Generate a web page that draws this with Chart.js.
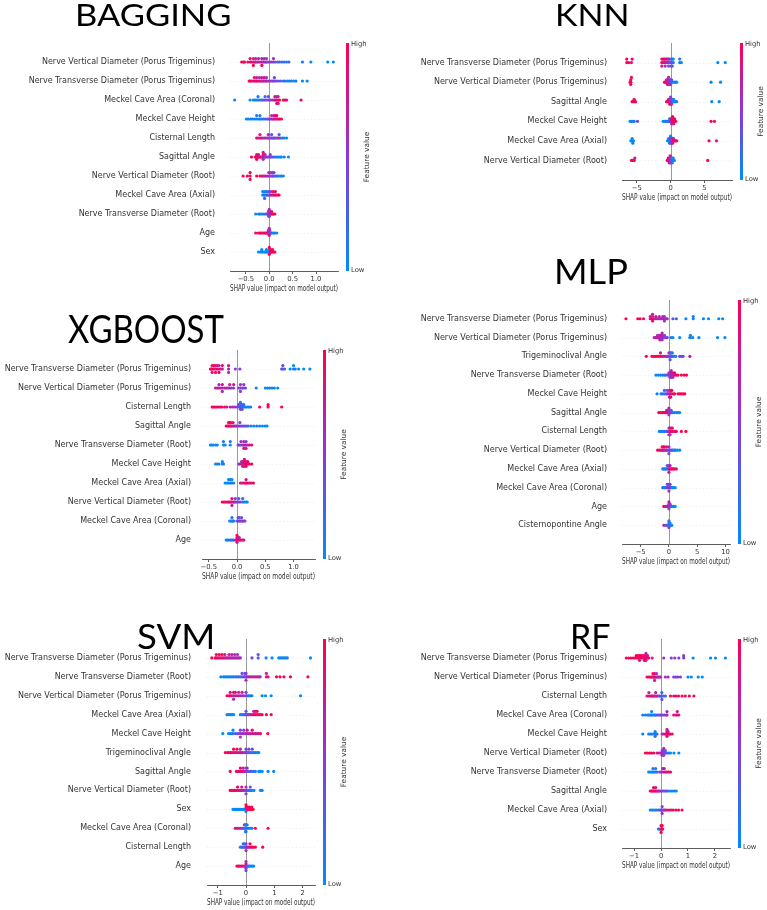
<!DOCTYPE html>
<html>
<head>
<meta charset="utf-8">
<script src="https://cdn.jsdelivr.net/npm/chart.js@4.4.1/dist/chart.umd.min.js"></script>
<style>
  body { margin: 0; background: #fff; width: 767px; height: 910px; position: relative; overflow: hidden; }
  canvas { position: absolute; }
  .ttl { position: absolute; font-family: "Lato"; line-height: 1; white-space: nowrap; transform-origin: 0 0; color: #000; z-index: 5; }
</style>
</head>
<body>
<script>
// ---- data: each point is [shap value, feature value (0 = low, 1 = high)] ----

const baggingFeatures = ['Nerve Vertical Diameter (Porus Trigeminus)', 'Nerve Transverse Diameter (Porus Trigeminus)', 'Meckel Cave Area (Coronal)', 'Meckel Cave Height', 'Cisternal Length', 'Sagittal Angle', 'Nerve Vertical Diameter (Root)', 'Meckel Cave Area (Axial)', 'Nerve Transverse Diameter (Root)', 'Age', 'Sex'];
const baggingTicks = [-0.5, 0, 0.5, 1.0];
const baggingTickLabels = ['\u22120.5', '0.0', '0.5', '1.0'];
const baggingPoints = [
  [[-0.59,1],[-0.55,1],[-0.53,1],[-0.46,.9],[-0.41,1],[-0.41,.9],[-0.38,.8],[-0.34,1],[-0.34,.8],[-0.34,1],[-0.31,.7],[-0.29,.9],[-0.29,.7],[-0.26,.6],[-0.23,.8],[-0.23,.7],[-0.2,.6],[-0.16,1],[-0.16,.7],[-0.16,1],[-0.13,.6],[-0.11,.8],[-0.11,.6],[-0.08,.5],[-0.06,.6],[-0.06,.6],[-0.03,.5],[0.01,.5],[0.05,.6],[0.09,.5],[0.09,.6],[0.13,.4],[0.18,.3],[0.22,.3],[0.27,.2],[0.32,.2],[0.37,.1],[0.42,.2],[0.71,0],[0.89,0],[1.25,0],[1.37,0]],
  [[-0.43,1],[-0.41,.9],[-0.38,1],[-0.35,.8],[-0.32,1],[-0.32,.9],[-0.29,.8],[-0.27,1],[-0.27,.7],[-0.24,.9],[-0.21,.8],[-0.21,.7],[-0.18,.9],[-0.16,.7],[-0.16,.8],[-0.13,.6],[-0.11,.9],[-0.11,.7],[-0.08,.6],[-0.06,.8],[-0.06,.6],[-0.03,.7],[0.01,.6],[0.05,.5],[0.08,.5],[0.11,.5],[0.11,.4],[0.14,.4],[0.19,.4],[0.24,.3],[0.3,.2],[0.34,.1],[0.39,.1],[0.43,0],[0.47,.1],[0.52,0],[0.57,.1],[0.71,0],[0.81,0]],
  [[-0.74,0],[-0.41,0],[-0.34,.1],[-0.3,0],[-0.27,.1],[-0.24,0],[-0.24,.1],[-0.2,.2],[-0.16,.1],[-0.13,.3],[-0.09,.4],[-0.09,.2],[-0.06,.3],[-0.02,.5],[-0.02,.4],[0.02,.4],[0.06,.6],[0.1,.7],[0.12,.7],[0.12,.8],[0.14,.8],[0.16,.9],[0.16,.7],[0.16,.8],[0.19,.8],[0.19,.7],[0.19,.9],[0.22,1],[0.3,1],[0.34,1],[0.37,.9],[0.68,1]],
  [[-0.49,0],[-0.45,0],[-0.4,.1],[-0.36,0],[-0.31,.1],[-0.27,0],[-0.27,.1],[-0.22,.2],[-0.2,0],[-0.2,.1],[-0.16,.1],[-0.12,.2],[-0.08,.3],[-0.04,.2],[-0.01,.4],[0.02,.5],[0.05,.6],[0.05,.7],[0.08,.7],[0.1,.6],[0.1,.8],[0.13,.9],[0.13,.8],[0.16,.7],[0.16,1],[0.19,.9],[0.22,1],[0.26,1]],
  [[-0.27,.9],[-0.24,.8],[-0.2,.7],[-0.2,.8],[-0.17,.9],[-0.14,.7],[-0.1,.8],[-0.07,.6],[-0.03,.7],[-0.02,.5],[-0.02,.6],[0.02,.5],[0.05,.5],[0.05,.4],[0.08,.4],[0.1,.6],[0.12,.3],[0.15,.5],[0.18,.2],[0.21,1],[0.21,.3],[0.24,.1],[0.28,.2],[0.32,0],[0.37,0]],
  [[-0.38,1],[-0.3,1],[-0.28,.9],[-0.27,1],[-0.27,.8],[-0.27,1],[-0.25,.9],[-0.23,1],[-0.23,.9],[-0.21,.8],[-0.19,1],[-0.17,.9],[-0.15,.8],[-0.13,.7],[-0.13,.9],[-0.13,.6],[-0.13,.8],[-0.11,.7],[-0.09,.6],[-0.09,.7],[-0.07,.6],[-0.04,.5],[-0.01,.5],[0.02,.4],[0.02,.5],[0.05,.4],[0.08,.3],[0.12,.2],[0.16,.1],[0.19,0],[0.23,.1],[0.26,0],[0.32,0],[0.41,0]],
  [[-0.56,1],[-0.47,1],[-0.41,1],[-0.41,1],[-0.41,.9],[-0.27,1],[-0.2,.9],[-0.16,.9],[-0.13,.8],[-0.1,.7],[-0.07,.7],[-0.04,.6],[-0.01,.7],[-0.01,.6],[0.03,.5],[0.03,.6],[0.06,.5],[0.07,.4],[0.07,.6],[0.1,.5],[0.1,.4],[0.13,.3],[0.16,.2],[0.19,.1],[0.23,0],[0.26,.1],[0.3,0]],
  [[-0.14,0],[-0.14,.1],[-0.12,0],[-0.1,.1],[-0.1,0],[-0.1,.2],[-0.08,.1],[-0.06,0],[-0.06,.2],[-0.04,.3],[-0.02,.4],[-0.02,.2],[0.01,.5],[0.03,.7],[0.03,.6],[0.06,.8],[0.08,.7],[0.08,.9],[0.11,1],[0.13,.8],[0.13,1],[0.16,.9],[0.19,1],[0.21,1]],
  [[-0.29,0],[-0.23,0],[-0.2,.1],[-0.16,0],[-0.12,.1],[-0.08,.2],[-0.05,.3],[-0.03,.4],[-0.02,.5],[-0.02,.4],[-0.01,.6],[-0.01,.5],[-0.01,.4],[0,.5],[0,.6],[0,.4],[0,.7],[0.01,.6],[0.01,.5],[0.03,.7],[0.05,.8],[0.05,.9],[0.07,1],[0.09,.9],[0.12,1]],
  [[-0.29,1],[-0.23,1],[-0.2,.9],[-0.17,1],[-0.14,.8],[-0.11,.9],[-0.08,1],[-0.06,.8],[-0.04,.7],[-0.03,1],[-0.02,.8],[-0.02,.9],[-0.01,.6],[-0.01,1],[0,.8],[0,.5],[0,1],[0,.7],[0.01,.4],[0.01,.6],[0.02,.3],[0.04,.5],[0.06,.2],[0.09,0],[0.12,.1],[0.16,0]],
  [[-0.23,0],[-0.19,0],[-0.16,0],[-0.16,0],[-0.13,0],[-0.1,0],[-0.08,0],[-0.06,0],[-0.06,0],[-0.03,0],[-0.01,0],[0,0],[0,0],[0,1],[0,1],[0.02,1],[0.03,1],[0.03,1],[0.05,1],[0.07,1],[0.07,1],[0.1,1],[0.12,1]]
];

const knnFeatures = ['Nerve Transverse Diameter (Porus Trigeminus)', 'Nerve Vertical Diameter (Porus Trigeminus)', 'Sagittal Angle', 'Meckel Cave Height', 'Meckel Cave Area (Axial)', 'Nerve Vertical Diameter (Root)'];
const knnTicks = [-5, 0, 5];
const knnTickLabels = ['\u22125', '0', '5'];
const knnPoints = [
  [[-6.5,1],[-6.5,1],[-6.2,1],[-5.8,.8],[-5.7,1],[-1.3,1],[-1.3,.9],[-1.3,.8],[-1.1,1],[-1.1,.9],[-0.95,.7],[-0.95,1],[-0.8,.8],[-0.8,.9],[-0.8,.6],[-0.6,.7],[-0.6,.9],[-0.45,.6],[-0.45,.8],[-0.3,.5],[-0.3,.7],[-0.3,.5],[-0.15,.4],[-0.15,.6],[0,.4],[0.1,.3],[0.1,.4],[0.25,.3],[0.25,.1],[0.25,.2],[0.4,.2],[0.4,0],[1.35,0],[1.35,.1],[1.6,0],[7.0,0],[8.1,0]],
  [[-6.0,1],[-5.9,1],[-5.9,.9],[-5.9,1],[-5.8,1],[-0.9,1],[-0.75,.9],[-0.6,1],[-0.6,.8],[-0.45,.9],[-0.45,.7],[-0.45,1],[-0.3,.8],[-0.3,.6],[-0.3,.9],[-0.3,.7],[-0.15,.6],[-0.15,.5],[-0.15,.7],[0,.5],[0,.4],[0,.6],[0.15,.3],[0.15,.4],[0.3,.2],[0.5,0],[0.7,.1],[0.9,0],[6.0,0],[7.4,0]],
  [[-5.7,1],[-5.5,1],[-5.4,.9],[-5.3,1],[-5.2,1],[-0.6,1],[-0.45,.9],[-0.3,1],[-0.3,.8],[-0.15,.9],[-0.15,.7],[-0.15,1],[0,.8],[0,.6],[0,.9],[0,.5],[0.15,.6],[0.15,.4],[0.15,.7],[0.3,.3],[0.3,.4],[0.45,.2],[0.45,0],[0.6,.1],[0.75,0],[0.9,0],[6.1,0],[7.2,0]],
  [[-6.0,0],[-5.8,0],[-5.6,0],[-5.4,.1],[-4.9,.4],[-1.1,0],[-0.9,.1],[-0.75,0],[-0.6,0],[-0.45,.1],[-0.3,.2],[-0.15,.3],[-0.15,.2],[0,.5],[0,.4],[0.15,.7],[0.15,.8],[0.15,.6],[0.3,.9],[0.3,1],[0.3,.8],[0.3,1],[0.45,.9],[0.45,1],[0.45,.8],[0.6,1],[0.6,.9],[0.75,1],[6.0,1],[6.5,.8]],
  [[-5.9,0],[-5.7,0],[-5.7,.1],[-5.6,0],[-5.5,0],[-0.45,0],[-0.3,.1],[-0.3,0],[-0.15,0],[-0.15,.2],[-0.15,.1],[0,.3],[0,.2],[0,.4],[0,.1],[0.15,.5],[0.15,.6],[0.15,.4],[0.3,.7],[0.3,.6],[0.3,.8],[0.45,.9],[0.45,.7],[0.6,1],[0.75,.8],[0.9,1],[5.7,1],[6.8,.8]],
  [[-5.8,1],[-5.6,1],[-5.5,.9],[-5.4,1],[-5.3,.8],[-0.5,1],[-0.35,.9],[-0.35,1],[-0.2,.8],[-0.2,.9],[-0.2,1],[-0.05,.6],[-0.05,.7],[-0.05,.5],[-0.05,.8],[0.1,.4],[0.1,.3],[0.1,.5],[0.25,.2],[0.25,.1],[0.25,.3],[0.4,0],[0.4,.1],[0.55,0],[5.5,1]]
];

const xgboostFeatures = ['Nerve Transverse Diameter (Porus Trigeminus)', 'Nerve Vertical Diameter (Porus Trigeminus)', 'Cisternal Length', 'Sagittal Angle', 'Nerve Transverse Diameter (Root)', 'Meckel Cave Height', 'Meckel Cave Area (Axial)', 'Nerve Vertical Diameter (Root)', 'Meckel Cave Area (Coronal)', 'Age'];
const xgboostTicks = [-0.5, 0, 0.5, 1.0];
const xgboostTickLabels = ['\u22120.5', '0.0', '0.5', '1.0'];
const xgboostPoints = [
  [[-0.47,1],[-0.46,.9],[-0.44,1],[-0.44,1],[-0.44,.8],[-0.41,1],[-0.41,.9],[-0.38,.8],[-0.38,1],[-0.38,.9],[-0.35,1],[-0.35,.8],[-0.32,.9],[-0.32,.7],[-0.32,1],[-0.29,.8],[-0.26,.7],[-0.26,.9],[-0.15,.7],[-0.15,.8],[-0.15,.6],[-0.03,.5],[0.05,.5],[0.79,.4],[0.81,.3],[0.81,.4],[0.84,.2],[0.94,0],[1.0,0],[1.0,0],[1.03,.1],[1.09,0],[1.18,0],[1.29,0]],
  [[-0.38,.7],[-0.35,.6],[-0.32,.8],[-0.32,.6],[-0.29,.7],[-0.26,.6],[-0.26,.8],[-0.26,.7],[-0.22,.6],[-0.19,.7],[-0.16,.6],[-0.13,.8],[-0.13,.7],[-0.1,.6],[-0.06,.5],[-0.06,.8],[0.03,.5],[0.06,.4],[0.06,.6],[0.06,.5],[0.09,.5],[0.12,.4],[0.12,.6],[0.15,.4],[0.34,0],[0.5,0],[0.54,.1],[0.58,0],[0.62,.1],[0.66,0],[0.72,0]],
  [[-0.44,1],[-0.42,1],[-0.39,.9],[-0.36,1],[-0.33,.9],[-0.3,.8],[-0.27,1],[-0.22,.9],[-0.18,.8],[-0.12,.7],[-0.08,.6],[-0.04,.6],[0,.5],[0.03,.3],[0.03,.4],[0.06,.2],[0.06,.3],[0.06,.5],[0.06,.1],[0.09,.2],[0.09,.4],[0.09,.3],[0.12,.1],[0.12,.2],[0.15,0],[0.18,.1],[0.21,0],[0.24,.1],[0.4,1],[0.55,1],[0.55,1],[0.79,1]],
  [[-0.19,1],[-0.17,.9],[-0.15,1],[-0.15,.9],[-0.13,1],[-0.13,.8],[-0.11,.9],[-0.11,1],[-0.09,.8],[-0.07,.7],[-0.07,.9],[-0.05,.8],[-0.03,.7],[-0.01,.6],[0.02,.6],[0.05,.5],[0.05,.4],[0.08,.4],[0.11,.5],[0.14,.3],[0.17,.3],[0.2,.2],[0.25,.1],[0.3,0],[0.35,.1],[0.4,0],[0.45,0],[0.5,0],[0.53,0]],
  [[-0.47,0],[-0.45,0],[-0.42,0],[-0.38,.1],[-0.35,0],[-0.24,0],[-0.24,.1],[-0.21,0],[-0.12,0],[-0.12,.1],[0.02,.3],[0.04,.5],[0.07,.4],[0.07,.6],[0.1,.5],[0.12,.7],[0.12,.6],[0.12,.8],[0.14,.6],[0.16,.7],[0.16,.5],[0.16,.8],[0.19,.6],[0.22,.8],[0.26,.9]],
  [[-0.38,0],[-0.35,0],[-0.32,.1],[-0.26,0],[-0.26,0],[-0.24,.1],[0.03,.5],[0.05,.6],[0.08,.7],[0.08,.6],[0.1,.8],[0.1,.7],[0.1,.9],[0.13,.8],[0.13,1],[0.13,.7],[0.13,.9],[0.16,1],[0.16,.8],[0.16,.9],[0.19,1],[0.19,.9],[0.22,1],[0.26,1]],
  [[-0.21,0],[-0.18,0],[-0.15,.1],[-0.15,0],[-0.12,0],[-0.12,.1],[-0.09,.2],[-0.09,0],[-0.06,.1],[0.06,.7],[0.09,.8],[0.12,.7],[0.15,.9],[0.16,1],[0.16,.8],[0.19,1],[0.22,.9],[0.25,1],[0.29,1]],
  [[-0.26,1],[-0.23,1],[-0.2,.9],[-0.17,1],[-0.15,.8],[-0.13,.9],[-0.11,1],[-0.09,.8],[-0.09,.9],[-0.09,.7],[-0.06,.8],[-0.05,.6],[-0.03,.7],[-0.03,.5],[0,.5],[0.03,.4],[0.03,.3],[0.06,.4],[0.1,.3],[0.1,.2],[0.13,.1],[0.16,0],[0.18,0]],
  [[-0.13,0],[-0.11,.1],[-0.09,0],[-0.09,.1],[-0.07,0],[-0.06,.2],[0,.3],[0.02,.4],[0.02,.5],[0.04,.5],[0.04,.3],[0.06,.6],[0.08,.5],[0.08,.4],[0.1,.5],[0.12,.6],[0.14,.4]],
  [[-0.19,0],[-0.17,.1],[-0.15,0],[-0.12,.2],[-0.1,.1],[-0.08,0],[-0.06,.3],[-0.03,.5],[-0.01,.8],[0,1],[0,.9],[0,.7],[0,1],[0.02,.8],[0.02,1],[0.04,.9],[0.04,.6],[0.06,1],[0.08,.8],[0.1,.7],[0.12,.9]]
];

const mlpFeatures = ['Nerve Transverse Diameter (Porus Trigeminus)', 'Nerve Vertical Diameter (Porus Trigeminus)', 'Trigeminoclival Angle', 'Nerve Transverse Diameter (Root)', 'Meckel Cave Height', 'Sagittal Angle', 'Cisternal Length', 'Nerve Vertical Diameter (Root)', 'Meckel Cave Area (Axial)', 'Meckel Cave Area (Coronal)', 'Age', 'Cisternopontine Angle'];
const mlpTicks = [-5, 0, 5, 10];
const mlpTickLabels = ['\u22125', '0', '5', '10'];
const mlpPoints = [
  [[-7.6,1],[-5.5,1],[-5.1,1],[-4.5,.9],[-3.3,.9],[-3.3,.8],[-3.0,1],[-2.9,.7],[-2.9,.9],[-2.9,.8],[-2.6,.8],[-2.3,.7],[-2.3,.8],[-2.0,.6],[-1.7,.7],[-1.7,.6],[-1.4,.8],[-1.1,.6],[-1.1,.7],[-0.8,.7],[-0.8,.5],[-0.8,.6],[-0.5,.5],[-0.3,.6],[0.7,.3],[1.3,.2],[3.0,0],[4.3,0],[4.3,.1],[6.1,0],[7.0,0],[8.8,0],[9.5,0]],
  [[-2.6,.7],[-2.4,.6],[-2.2,.8],[-2.0,.7],[-2.0,.6],[-1.8,.9],[-1.6,.7],[-1.6,.6],[-1.6,.8],[-1.4,.5],[-1.4,.7],[-1.2,.6],[-1.2,.8],[-1.2,.5],[-1.2,.7],[-1.0,.6],[-0.8,.5],[-0.8,.4],[-0.5,.4],[-0.3,.5],[0.4,.1],[0.7,0],[1.9,0],[3.7,0],[3.8,.1],[3.8,0],[4.2,0],[5.3,0],[8.6,0],[9.9,0]],
  [[-4.0,1],[-3.0,1],[-2.7,1],[-2.4,.9],[-2.1,1],[-1.8,.9],[-1.5,1],[-1.5,.8],[-1.2,.9],[-0.9,.8],[-0.6,.7],[-0.4,.8],[-0.2,.6],[0,.5],[0,.6],[0.2,.4],[0.2,.5],[0.2,.3],[0.4,.4],[0.4,.2],[0.6,.3],[0.6,.1],[0.9,.2],[1.2,0],[1.9,.4],[2.2,.5],[2.5,.4],[3.7,.7]],
  [[-2.3,0],[-1.9,.1],[-1.5,0],[-1.1,.2],[-0.8,.1],[-0.5,.3],[-0.2,.4],[0,.5],[0,.4],[0.2,.6],[0.2,.5],[0.2,.7],[0.4,.6],[0.4,.8],[0.4,.5],[0.4,.7],[0.7,.7],[0.7,.9],[0.7,.6],[1.0,.8],[1.0,.9],[1.3,1],[1.6,.9],[2.2,1],[2.7,1],[3.1,1]],
  [[-2.1,0],[-1.4,.1],[-1.1,.2],[-0.8,.1],[-0.8,.3],[-0.5,.4],[-0.3,.5],[-0.3,.3],[-0.1,.6],[0.1,.7],[0.1,.8],[0.1,.6],[0.3,.9],[0.3,.7],[0.3,1],[0.5,.8],[0.5,1],[0.8,.9],[1.0,1],[1.6,1],[1.9,.9],[2.2,1],[2.5,1],[2.8,1]],
  [[-1.8,1],[-1.5,1],[-1.2,.9],[-1.0,1],[-0.8,.9],[-0.6,1],[-0.4,.8],[-0.4,1],[-0.2,.9],[-0.2,.7],[0,.8],[0,.6],[0,.5],[0,.7],[0.2,.6],[0.2,.4],[0.4,.5],[0.4,.3],[0.7,.2],[1.0,.1],[1.3,0],[1.6,0],[1.9,0]],
  [[-1.7,0],[-1.4,.1],[-1.1,0],[-0.8,.2],[-0.5,.1],[-0.3,.3],[-0.1,.4],[0,.6],[0,.5],[0,.7],[0.2,.8],[0.2,.9],[0.2,.7],[0.4,1],[0.4,.8],[0.6,.9],[0.6,1],[0.9,1],[1.1,.8],[1.3,1],[2.2,1],[3.0,1]],
  [[-2.0,1],[-1.7,.9],[-1.4,1],[-1.2,.8],[-1.2,.9],[-1.0,.7],[-1.0,.9],[-0.8,.8],[-0.8,1],[-0.6,.7],[-0.4,.6],[-0.4,.8],[-0.2,.6],[0,.5],[0,.6],[0,.4],[0.2,.4],[0.4,.3],[0.6,.4],[0.8,.2],[1.0,.1],[1.2,0],[1.5,0],[1.9,0]],
  [[-1.1,0],[-0.9,.1],[-0.7,0],[-0.5,.2],[-0.3,.1],[-0.3,.3],[-0.1,.4],[0,.6],[0,.5],[0,.8],[0.2,.9],[0.2,.7],[0.4,1],[0.6,.9],[0.8,1],[1.0,.8],[1.3,1]],
  [[-1.1,0],[-0.9,.2],[-0.7,.1],[-0.5,.3],[-0.3,.5],[-0.3,.2],[-0.1,.6],[0,.4],[0,.7],[0,.5],[0.2,.8],[0.2,.4],[0.4,.3],[0.6,.1],[0.8,0],[1.1,0]],
  [[-0.9,1],[-0.6,.8],[-0.4,.9],[-0.2,.7],[0,.6],[0,.8],[0,.5],[0,.7],[0.2,.4],[0.2,.6],[0.4,.3],[0.6,.2],[0.8,0],[1.1,0]],
  [[-0.9,.8],[-0.6,.3],[-0.4,.2],[-0.2,.4],[0,.1],[0,.3],[0,.5],[0,.2],[0.2,.3],[0.2,0],[0.4,.1],[0.5,0]]
];

const svmFeatures = ['Nerve Transverse Diameter (Porus Trigeminus)', 'Nerve Transverse Diameter (Root)', 'Nerve Vertical Diameter (Porus Trigeminus)', 'Meckel Cave Area (Axial)', 'Meckel Cave Height', 'Trigeminoclival Angle', 'Sagittal Angle', 'Nerve Vertical Diameter (Root)', 'Sex', 'Meckel Cave Area (Coronal)', 'Cisternal Length', 'Age'];
const svmTicks = [-1, 0, 1, 2];
const svmTickLabels = ['\u22121', '0', '1', '2'];
const svmPoints = [
  [[-1.21,1],[-1.09,1],[-1.05,1],[-1.05,.9],[-1.0,1],[-0.95,.8],[-0.95,1],[-0.9,.9],[-0.85,.8],[-0.85,1],[-0.8,.9],[-0.75,.7],[-0.75,.8],[-0.7,.9],[-0.65,.7],[-0.6,.8],[-0.6,.7],[-0.55,.6],[-0.5,.7],[-0.5,.8],[-0.45,.6],[-0.4,.7],[-0.4,.6],[-0.35,.7],[-0.3,.6],[-0.3,.6],[-0.25,.7],[-0.2,.6],[0.21,.4],[0.43,.3],[0.43,.3],[0.71,0],[0.92,0],[1.16,0],[1.22,.1],[1.28,0],[1.34,0],[1.4,0],[1.46,.1],[2.28,0]],
  [[-0.89,0],[-0.8,0],[-0.74,.1],[-0.68,0],[-0.62,0],[-0.56,.1],[-0.5,0],[-0.44,.2],[-0.38,0],[-0.32,.1],[-0.26,.3],[-0.2,.2],[-0.14,.3],[-0.14,.4],[-0.08,.4],[-0.04,.5],[-0.04,.3],[0,.4],[0,.5],[0,.6],[0.04,.6],[0.1,.7],[0.16,.6],[0.22,.8],[0.28,.7],[0.34,.6],[0.4,.8],[0.46,.7],[0.5,.6],[0.72,.8],[0.72,.7],[0.78,.9],[1.08,1],[1.2,1],[1.34,1],[1.57,1],[2.19,1]],
  [[-0.67,1],[-0.6,.9],[-0.56,1],[-0.56,.8],[-0.5,.9],[-0.44,.7],[-0.44,.8],[-0.44,.6],[-0.38,.8],[-0.38,.9],[-0.32,.7],[-0.26,.8],[-0.26,.6],[-0.2,.7],[-0.14,.5],[-0.14,.8],[-0.08,.6],[0,.4],[0,.5],[0.04,.3],[0.1,.2],[0.16,.1],[0.21,0],[0.57,0],[0.69,0],[0.89,0],[1.93,0]],
  [[-0.67,0],[-0.62,0],[-0.56,.1],[-0.5,0],[-0.44,0],[-0.2,.1],[-0.14,0],[-0.08,.2],[-0.02,.3],[0,.4],[0,.3],[0.06,.5],[0.1,.4],[0.15,.6],[0.21,.8],[0.27,.9],[0.27,.7],[0.33,1],[0.33,.8],[0.39,.9],[0.39,1],[0.45,.8],[0.5,1],[0.57,.9],[0.72,1],[0.89,1]],
  [[-0.82,0],[-0.62,0],[-0.56,.1],[-0.5,0],[-0.46,.2],[-0.46,0],[-0.38,.2],[-0.32,.3],[-0.26,.5],[-0.2,.4],[-0.2,.5],[-0.2,.6],[-0.14,.6],[-0.08,.7],[-0.08,.5],[-0.02,.6],[0.04,.7],[0.04,.8],[0.1,.6],[0.16,.8],[0.22,.7],[0.22,.9],[0.28,.8],[0.34,.9],[0.4,.7],[0.45,.8],[0.51,1],[0.77,1]],
  [[-0.73,1],[-0.65,.9],[-0.6,1],[-0.55,.9],[-0.5,1],[-0.44,.8],[-0.44,1],[-0.38,.9],[-0.32,.8],[-0.32,1],[-0.26,.7],[-0.2,.9],[-0.2,.7],[-0.14,.8],[-0.08,.6],[-0.02,.6],[0,.5],[0,.4],[0.06,.5],[0.1,.3],[0.1,.4],[0.16,.3],[0.22,.2],[0.22,.4],[0.28,.1],[0.34,.2],[0.4,0],[0.45,0]],
  [[-0.56,1],[-0.34,.9],[-0.28,1],[-0.24,.8],[-0.2,.9],[-0.2,1],[-0.14,.8],[-0.1,.9],[-0.1,.7],[-0.05,.7],[0,.6],[0,.5],[0.04,.4],[0.04,.6],[0.1,.3],[0.16,.4],[0.2,.2],[0.27,.3],[0.33,.1],[0.45,0],[0.5,0],[0.57,0],[0.78,0],[0.98,0]],
  [[-0.56,1],[-0.5,1],[-0.45,.9],[-0.4,1],[-0.35,.8],[-0.3,.9],[-0.3,1],[-0.25,.8],[-0.2,.9],[-0.15,.7],[-0.15,.8],[-0.1,.6],[-0.05,.7],[0,.5],[0,.6],[0,.4],[0.05,.4],[0.1,.3],[0.15,.2],[0.15,.3],[0.2,.1],[0.28,0],[0.51,0],[0.57,0]],
  [[-0.46,0],[-0.42,0],[-0.38,0],[-0.34,0],[-0.3,0],[-0.26,0],[-0.22,0],[-0.18,0],[-0.14,0],[-0.1,0],[-0.06,0],[0,0],[0,1],[0,0],[0,1],[0.04,1],[0.06,1],[0.06,1],[0.1,1],[0.12,1],[0.12,1],[0.16,1],[0.2,1],[0.2,1],[0.25,1]],
  [[-0.38,.8],[-0.32,.9],[-0.26,.7],[-0.2,.8],[-0.14,.6],[-0.1,.4],[-0.06,.3],[-0.06,.5],[-0.02,.2],[-0.02,.4],[-0.02,.1],[0,.3],[0,.2],[0,.1],[0.04,.2],[0.04,0],[0.1,.1],[0.15,0],[0.21,0],[0.33,1],[0.78,1]],
  [[-0.2,.2],[-0.15,.1],[-0.1,.3],[-0.1,.2],[-0.06,.4],[-0.06,.1],[-0.02,.3],[0,.5],[0,.4],[0,.6],[0.04,.6],[0.09,.8],[0.14,.7],[0.14,1],[0.2,.9],[0.25,1],[0.33,1],[0.59,1]],
  [[-0.32,1],[-0.27,.9],[-0.22,1],[-0.17,.8],[-0.12,.9],[-0.07,.8],[-0.03,.7],[0,.6],[0,.8],[0,.5],[0,.7],[0,.4],[0.04,.3],[0.08,.2],[0.12,.1],[0.17,0],[0.22,.1],[0.27,0]]
];

const rfFeatures = ['Nerve Transverse Diameter (Porus Trigeminus)', 'Nerve Vertical Diameter (Porus Trigeminus)', 'Cisternal Length', 'Meckel Cave Area (Coronal)', 'Meckel Cave Height', 'Nerve Vertical Diameter (Root)', 'Nerve Transverse Diameter (Root)', 'Sagittal Angle', 'Meckel Cave Area (Axial)', 'Sex'];
const rfTicks = [-1, 0, 1, 2];
const rfTickLabels = ['\u22121', '0', '1', '2'];
const rfPoints = [
  [[-1.29,1],[-1.2,1],[-1.12,1],[-1.04,.9],[-0.98,1],[-0.92,.9],[-0.92,1],[-0.86,.8],[-0.86,1],[-0.8,.9],[-0.8,1],[-0.8,.8],[-0.74,.9],[-0.74,1],[-0.68,.8],[-0.68,1],[-0.62,.9],[-0.62,.7],[-0.62,1],[-0.56,.8],[-0.56,1],[-0.56,.9],[-0.56,.7],[-0.5,.9],[-0.5,.8],[-0.46,1],[-0.33,.8],[0.1,.6],[0.38,.5],[0.51,.6],[0.66,.5],[0.84,.4],[0.84,.5],[1.19,0],[1.84,0],[2.02,0],[2.39,0]],
  [[-0.52,.9],[-0.45,1],[-0.4,.8],[-0.36,1],[-0.32,.9],[-0.3,.7],[-0.3,1],[-0.27,.8],[-0.24,1],[-0.24,.9],[-0.24,.7],[-0.2,.8],[-0.17,.9],[-0.17,.6],[-0.13,.7],[-0.1,.8],[-0.06,.6],[-0.02,.7],[0.16,.5],[0.26,.7],[0.47,.5],[0.55,.4],[0.62,.5],[0.72,.4],[1.0,0],[1.12,0],[1.38,0],[1.53,0]],
  [[-0.52,.9],[-0.45,.8],[-0.45,.7],[-0.4,1],[-0.35,.8],[-0.32,.7],[-0.28,.9],[-0.24,.8],[-0.2,.6],[-0.2,.7],[-0.15,.9],[-0.1,.5],[-0.05,.4],[0,.3],[0.03,.4],[0.03,.2],[0.03,.3],[0.1,.1],[0.16,.2],[0.35,1],[0.47,.8],[0.55,1],[0.65,.9],[0.78,1],[0.9,1],[1.05,1],[1.22,1]],
  [[-0.68,0],[-0.58,.1],[-0.5,0],[-0.45,.1],[-0.4,0],[-0.35,.2],[-0.35,0],[-0.3,.1],[-0.25,.2],[-0.21,0],[-0.16,.3],[-0.1,.4],[-0.05,.3],[0,.5],[0.05,.4],[0.12,.5],[0.2,.6],[0.22,.7],[0.22,.6],[0.47,.8],[0.55,.7],[0.6,.9],[0.6,.8],[0.66,.8]],
  [[-0.68,0],[-0.46,0],[-0.4,.1],[-0.34,0],[-0.28,.1],[-0.22,0],[-0.22,.1],[-0.22,.2],[-0.18,0],[-0.15,.2],[0.04,.6],[0.1,.7],[0.16,.8],[0.2,.9],[0.22,1],[0.22,.8],[0.22,.9],[0.22,.7],[0.26,1],[0.26,.8],[0.3,.9],[0.34,1],[0.41,.9]],
  [[-0.58,1],[-0.5,1],[-0.42,.9],[-0.35,1],[-0.27,.9],[-0.15,.8],[-0.08,.7],[-0.02,.7],[0.04,.6],[0.04,.5],[0.04,.8],[0.1,.6],[0.1,.5],[0.1,.4],[0.1,.7],[0.16,.4],[0.16,.3],[0.22,.3],[0.29,.1],[0.35,0],[0.48,0],[0.66,0]],
  [[-0.46,0],[-0.4,.1],[-0.35,0],[-0.3,0],[-0.3,.1],[-0.25,.2],[-0.2,0],[-0.2,.1],[-0.15,.2],[-0.05,.4],[0,.5],[0.06,.6],[0.06,.7],[0.12,.8],[0.12,.7],[0.18,.9],[0.22,.8],[0.28,1],[0.35,.9]],
  [[-0.4,1],[-0.35,.9],[-0.32,1],[-0.28,.8],[-0.28,1],[-0.24,.9],[-0.2,1],[-0.2,.8],[-0.16,.9],[-0.12,.7],[-0.08,.8],[-0.04,.6],[0.02,.5],[0.08,.4],[0.14,.4],[0.2,.3],[0.26,.2],[0.35,0],[0.42,.1],[0.5,0],[0.56,0]],
  [[-0.4,0],[-0.34,0],[-0.28,.1],[-0.22,0],[-0.16,.2],[-0.09,.1],[-0.04,.3],[0,.4],[0.04,.5],[0.04,.4],[0.04,.6],[0.08,.5],[0.12,.6],[0.16,.7],[0.22,.8],[0.3,1],[0.38,.9],[0.45,1],[0.55,1],[0.65,.9],[0.78,1]],
  [[-0.1,0],[-0.07,0],[-0.04,0],[0,1],[0,1],[0,1],[0.02,1],[0.04,1],[0.04,1],[0.06,1]]
];

// ---- layout of the six panels (page pixels) ----
const AXIS_H = 24;
const panels = [
  { title: 'BAGGING', feats: baggingFeatures, pts: baggingPoints, ticks: baggingTicks, tickLabels: baggingTickLabels,
    xMin: -0.84, xMax: 1.47, box: [0, 0, 380, 300], plot: [230, 338, 43, 271], gap: 15, head: [77, 230, 5, 28] },
  { title: 'KNN', feats: knnFeatures, pts: knnPoints, ticks: knnTicks, tickLabels: knnTickLabels,
    xMin: -7.2, xMax: 9.1, box: [380, 0, 387, 258], plot: [622, 732, 43, 180], gap: 15, head: [557, 627, 5, 28] },
  { title: 'XGBOOST', feats: xgboostFeatures, pts: xgboostPoints, ticks: xgboostTicks, tickLabels: xgboostTickLabels,
    xMin: -0.62, xMax: 1.38, box: [0, 300, 380, 300], plot: [202, 315, 350, 559], gap: 11, head: [68, 224, 315, 343] },
  { title: 'MLP', feats: mlpFeatures, pts: mlpPoints, ticks: mlpTicks, tickLabels: mlpTickLabels,
    xMin: -8.3, xMax: 10.8, box: [380, 258, 387, 342], plot: [622, 730, 300, 544], gap: 15, head: [557, 627, 260, 285] },
  { title: 'SVM', feats: svmFeatures, pts: svmPoints, ticks: svmTicks, tickLabels: svmTickLabels,
    xMin: -1.38, xMax: 2.44, box: [0, 605, 380, 305], plot: [207, 315, 639, 885], gap: 16, head: [138, 212, 625, 650] },
  { title: 'RF', feats: rfFeatures, pts: rfPoints, ticks: rfTicks, tickLabels: rfTickLabels,
    xMin: -1.45, xMax: 2.56, box: [380, 600, 387, 310], plot: [622, 730, 639, 848], gap: 15, head: [573, 610, 625, 650] }
];

// shap red-blue colour map (low = blue, high = red)
const cmapStops = [[0, [0, 139, 251]], [0.5, [138, 57, 218]], [1, [255, 0, 81]]];
function shapColor(t) {
  for (let i = 1; i < cmapStops.length; i++) {
    const [t1, c1] = cmapStops[i];
    const [t0, c0] = cmapStops[i - 1];
    if (t <= t1) {
      const f = (t - t0) / (t1 - t0);
      const c = c0.map((v, k) => Math.round(v + (c1[k] - v) * f));
      return `rgb(${c[0]},${c[1]},${c[2]})`;
    }
  }
  return 'rgb(255,0,81)';
}

// beeswarm offsets, same binning as shap's summary plot
function swarm(xs) {
  const lo = Math.min(...xs), hi = Math.max(...xs);
  const q = xs.map(x => Math.round(100 * (x - lo) / (hi - lo + 1e-8)));
  const order = xs.map((_, i) => i).sort((a, b) => q[a] - q[b] || a - b);
  const ys = new Array(xs.length).fill(0);
  let layer = 0, last = -1;
  for (const i of order) {
    if (q[i] !== last) layer = 0;
    ys[i] = Math.ceil(layer / 2) * ((layer % 2) * 2 - 1);
    layer++;
    last = q[i];
  }
  const m = Math.max(...ys.map(y => y + 1));
  return ys.map(y => y * 0.9 * 0.4 / m);
}

function makePanel(p) {
  const [bx, by, bw, bh] = p.box;
  const [pl, pr, pt, pb] = p.plot;
  const n = p.feats.length;

  const cv = document.createElement('canvas');
  cv.width = bw; cv.height = bh;
  cv.style.left = bx + 'px'; cv.style.top = by + 'px';
  cv.style.width = bw + 'px'; cv.style.height = bh + 'px';
  document.body.appendChild(cv);

  const data = [], colors = [];
  p.pts.forEach((row, i) => {
    const offs = swarm(row.map(d => d[0]));
    row.forEach((d, j) => {
      data.push({ x: d[0], y: n - 1 - i + offs[j] });
      colors.push(shapColor(d[1]));
    });
  });

  const decor = {
    id: 'decor',
    beforeDatasetsDraw(chart) {
      const { ctx, chartArea: a, scales: { x, y } } = chart;
      ctx.save();
      ctx.strokeStyle = '#cccccc';
      ctx.lineWidth = 0.5;
      ctx.setLineDash([0.7, 3]);
      for (let i = 0; i < n; i++) {
        const yy = Math.round(y.getPixelForValue(i)) + 0.5;
        ctx.beginPath(); ctx.moveTo(a.left, yy); ctx.lineTo(a.right, yy); ctx.stroke();
      }
      ctx.setLineDash([]);
      ctx.strokeStyle = '#999999';
      ctx.lineWidth = 1;
      const zx = Math.round(x.getPixelForValue(0)) + 0.5;
      ctx.beginPath(); ctx.moveTo(zx, a.top); ctx.lineTo(zx, a.bottom); ctx.stroke();
      ctx.restore();
    },
    afterDraw(chart) {
      const { ctx, chartArea: a } = chart;
      const cbx = a.right + 8, cbw = 3;
      ctx.save();
      const g = ctx.createLinearGradient(0, a.bottom, 0, a.top);
      cmapStops.forEach(([t]) => g.addColorStop(t, shapColor(t)));
      ctx.fillStyle = g;
      ctx.fillRect(cbx, a.top, cbw, a.bottom - a.top);
      ctx.fillStyle = '#333333';
      ctx.font = '6.8px "DejaVu Sans"';
      ctx.textAlign = 'left';
      ctx.textBaseline = 'middle';
      ctx.fillText('High', cbx + cbw + 2, a.top + 1);
      ctx.fillText('Low', cbx + cbw + 2, a.bottom - 1);
      ctx.font = '7.4px "DejaVu Sans"';
      ctx.translate(cbx + 21, (a.top + a.bottom) / 2);
      ctx.rotate(-Math.PI / 2);
      ctx.textAlign = 'center';
      ctx.fillText('Feature value', 0, 0);
      ctx.restore();
    }
  };

  new Chart(cv, {
    type: 'scatter',
    data: {
      datasets: [{
        data,
        backgroundColor: colors,
        pointRadius: 1.6,
        pointBorderWidth: 0,
        pointHoverRadius: 1.6
      }]
    },
    options: {
      responsive: false,
      animation: false,
      devicePixelRatio: 1,
      events: [],
      layout: { padding: { left: 0, top: pt - by, right: bx + bw - pr, bottom: by + bh - pb - AXIS_H } },
      plugins: { legend: { display: false }, tooltip: { enabled: false } },
      scales: {
        x: {
          type: 'linear',
          min: p.xMin,
          max: p.xMax,
          afterBuildTicks: s => { s.ticks = p.ticks.map(v => ({ value: v })); },
          afterFit: s => { s.height = AXIS_H; },
          ticks: {
            callback: (v, i) => p.tickLabels[i],
            font: { family: 'DejaVu Sans', size: 6.8 },
            color: '#333333',
            padding: 1,
            maxRotation: 0,
            autoSkip: false
          },
          grid: { display: true, drawOnChartArea: false, drawTicks: true, tickLength: 3, color: '#333333', lineWidth: 0.8 },
          border: { display: true, color: '#333333', width: 0.8 },
          title: {
            display: true,
            text: 'SHAP value (impact on model output)',
            font: { family: 'DejaVu Sans', size: 8 },
            color: '#333333',
            padding: { top: 0, bottom: 1.2 }
          }
        },
        y: {
          type: 'linear',
          min: -1,
          max: n,
          afterBuildTicks: s => { s.ticks = p.feats.map((_, i) => ({ value: i })); },
          afterFit: s => { s.width = pl - bx; },
          ticks: {
            callback: v => p.feats[n - 1 - v],
            font: { family: 'DejaVu Sans', size: 8 },
            color: '#333333',
            padding: p.gap,
            autoSkip: false
          },
          grid: { display: false, drawTicks: false },
          border: { display: false }
        }
      }
    },
    plugins: [decor]
  });
}

// big model names above each panel, fitted to the measured box
function placeTitle(p) {
  const [x0, x1, top, bottom] = p.head;
  const ctx = document.createElement('canvas').getContext('2d');
  ctx.font = '40px Lato';
  const ratio = ctx.measureText(p.title).actualBoundingBoxAscent / 40;
  const fs = (bottom - top) / ratio;
  ctx.font = fs + 'px Lato';
  const m = ctx.measureText(p.title);
  const inkW = m.actualBoundingBoxLeft + m.actualBoundingBoxRight;
  const sx = (x1 - x0) / inkW;
  const baseline = (fs - (m.fontBoundingBoxAscent + m.fontBoundingBoxDescent)) / 2 + m.fontBoundingBoxAscent;
  const el = document.createElement('div');
  el.className = 'ttl';
  el.textContent = p.title;
  el.style.fontSize = fs + 'px';
  el.style.top = (top + m.actualBoundingBoxAscent - baseline) + 'px';
  el.style.left = (x0 + m.actualBoundingBoxLeft * sx) + 'px';
  el.style.transform = `scaleX(${sx})`;
  document.body.appendChild(el);
}

panels.forEach(makePanel);
panels.forEach(placeTitle);
</script>
</body>
</html>
